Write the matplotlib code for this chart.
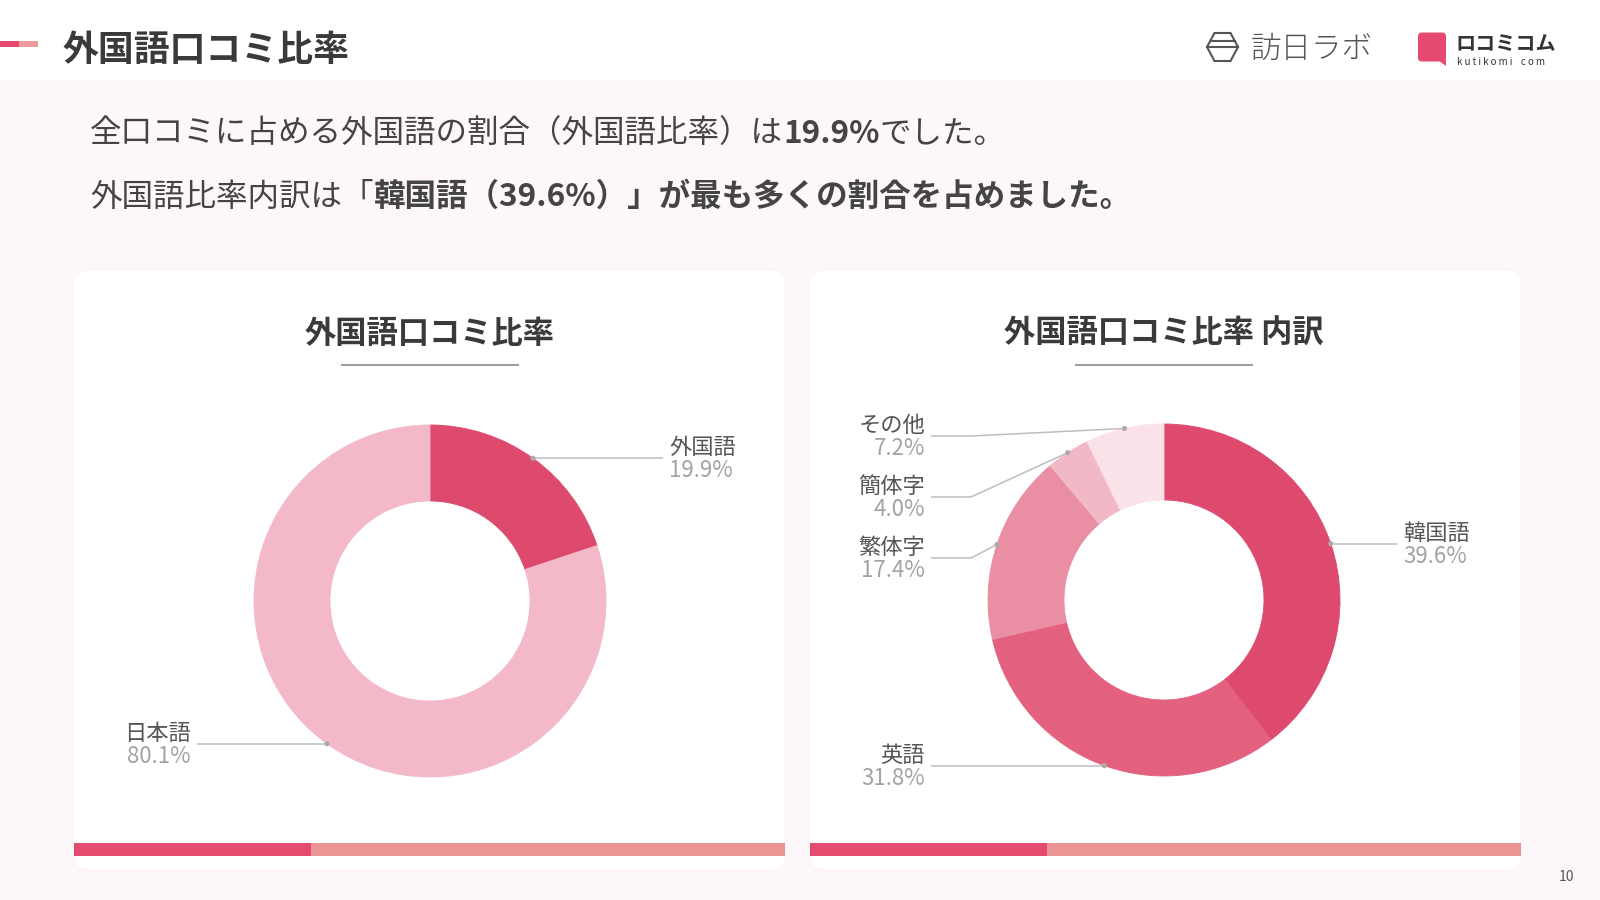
import matplotlib
matplotlib.use('Agg')
import matplotlib.pyplot as plt
import numpy as np
from matplotlib.patches import FancyBboxPatch, Rectangle, Polygon, Circle

plt.rcParams['font.family'] = ['Noto Sans CJK JP', 'DejaVu Sans']

# ---------------- data ----------------
page_title = '外国語口コミ比率'
chart1_title = '外国語口コミ比率'
chart2_title = '外国語口コミ比率 内訳'

overall_labels = ['外国語', '日本語']
overall_values = [19.9, 80.1]
overall_colors = ['#DE4A6E', '#F3B9C8']

breakdown_labels = ['韓国語', '英語', '繁体字', '簡体字', 'その他']
breakdown_values = [39.6, 31.8, 17.4, 4.0, 7.2]
breakdown_colors = ['#DD4A6E', '#E3617F', '#EA8EA3', '#F2B8C6', '#FAE2E8']

line1_parts = [('全口コミに占める外国語の割合（外国語比率）は', False), ('19.9%', True), ('でした。', False)]
line2_parts = [('外国語比率内訳は「', False), ('韓国語（39.6%）」が最も多くの割合を占めました。', True)]

page_number = '10'

# ---------------- figure ----------------
W, H = 1600, 900
fig = plt.figure(figsize=(16, 9), dpi=100)
fig.patch.set_facecolor('#FEF7F9')
bg = fig.add_axes([0, 0, 1, 1])
bg.set_xlim(0, W)
bg.set_ylim(H, 0)
bg.axis('off')
bg.set_zorder(0)

# header band
bg.add_patch(Rectangle((0, 0), W, 80, facecolor='white', edgecolor='none'))
bg.add_patch(Rectangle((0, 40.5), 19, 6, facecolor='#E5496F', edgecolor='none'))
bg.add_patch(Rectangle((19, 40.5), 19, 6, facecolor='#EC9A9C', edgecolor='none'))
bg.text(62, 51, page_title, fontsize=25.8, fontweight='bold', color='#3A3A3A', va='center', ha='left')

# logo 1: hexagon icon + 訪日ラボ
hx, hy = 1222.5, 47
hexpts = [(hx - 8, hy - 14), (hx + 8, hy - 14), (hx + 15.5, hy), (hx + 8, hy + 14), (hx - 8, hy + 14), (hx - 15.5, hy)]
bg.add_patch(Polygon(hexpts, closed=True, fill=False, edgecolor='#555555', linewidth=1.5))
bg.plot([hx - 12, hx + 12], [hy - 6, hy - 6], color='#555555', lw=1.5)
bg.plot([hx - 15.5, hx + 15.5], [hy, hy], color='#555555', lw=1.5)
bg.text(1251, 49, '訪日ラボ', fontsize=22, color='#555555', va='center', ha='left', fontweight='light')

# logo 2: kutikomi
bg.add_patch(FancyBboxPatch((1418, 32.5), 28, 29, boxstyle='round,pad=0,rounding_size=4',
                            facecolor='#E5496F', edgecolor='none'))
bg.add_patch(Polygon([(1438, 60), (1446, 60), (1446, 66)], closed=True, facecolor='#E5496F', edgecolor='none'))
bg.text(1455, 44, 'ロコミコム', fontsize=14.5, fontweight='bold', color='#333333', va='center', ha='left')
bg.text(1457, 62, 'k u t i k o m i    c o m', fontsize=7, color='#333333', va='center', ha='left')

# subtitle lines with mixed weight
fig.canvas.draw()
renderer = fig.canvas.get_renderer()


def rich(x, y, parts, size, color):
    for s, bold in parts:
        t = bg.text(x, y, s, fontsize=size, fontweight='bold' if bold else 'normal',
                    color=color, va='center', ha='left')
        bb = t.get_window_extent(renderer)
        x += bb.width


rich(90, 134, line1_parts, 22.7, '#444444')
rich(90, 197, line2_parts, 22.7, '#444444')

# cards
card_x = [74, 810]
card_w = 711
for cx in card_x:
    bg.add_patch(FancyBboxPatch((cx, 270), card_w, 600, boxstyle='round,pad=0,rounding_size=14',
                                facecolor='white', edgecolor='#FBF1F3', linewidth=0.6))
    bg.add_patch(Rectangle((cx, 843), card_w / 3 + 0.5, 13, facecolor='#E34C6F', edgecolor='none'))
    bg.add_patch(Rectangle((cx + card_w / 3, 843), card_w * 2 / 3, 13, facecolor='#EA9494', edgecolor='none'))

centers = [(430, 601), (1164, 600)]
titles = [chart1_title, chart2_title]
for (ccx, ccy), ttl in zip(centers, titles):
    bg.text(ccx, 334, ttl, fontsize=22.5, fontweight='bold', color='#3A3A3A', va='center', ha='center')
    bg.plot([ccx - 89, ccx + 89], [365, 365], color='#8A8A8A', lw=1.2, solid_capstyle='butt')

bg.text(1567, 877, page_number, fontsize=10, color='#555555', va='center', ha='center')

# ---------------- donuts ----------------
R_OUT = 176
RING = 76
HALF = 300


def donut(center, labels, values, colors, label_y=None):
    cx, cy = center
    ax = fig.add_axes([(cx - HALF) / W, (H - cy - HALF) / H, 2 * HALF / W, 2 * HALF / H])
    ax.set_zorder(1)
    ax.patch.set_alpha(0)
    wedges, _ = ax.pie(values, colors=colors, startangle=90, counterclock=False, radius=R_OUT,
                       wedgeprops=dict(width=RING, linewidth=0.6))
    for w_, c in zip(wedges, colors):
        w_.set_edgecolor(c)
    ax.set_xlim(-HALF, HALF)
    ax.set_ylim(-HALF, HALF)
    ax.set_aspect('equal')
    ax.axis('off')
    total = float(sum(values))
    cum = 0.0
    for i, (lab, v) in enumerate(zip(labels, values)):
        mid = 90 - 360 * (cum + v / 2) / total
        cum += v
        px = R_OUT * np.cos(np.radians(mid))
        py = R_OUT * np.sin(np.radians(mid))
        side = 1 if px >= 0 else -1
        ly = py if (label_y is None or label_y[i] is None) else label_y[i]
        xe = side * 233
        if label_y is not None and label_y[i] is not None:
            xs = [px, side * 193, xe]
            ys = [py, ly, ly]
        else:
            xs = [px, xe]
            ys = [py, ly]
        ax.plot(xs, ys, color='#BDBDBD', lw=1.1, clip_on=False, solid_capstyle='butt')
        ax.add_patch(Circle((px, py), 2.6, facecolor='#ABABAB', edgecolor='none', clip_on=False, zorder=5))
        tx = side * 239
        ha = 'left' if side > 0 else 'right'
        ax.text(tx, ly + 10.5, lab, fontsize=16, color='#555555', ha=ha, va='center', clip_on=False)
        ax.text(tx, ly - 12.5, f'{v:.1f}%', fontsize=16, color='#A3A3A3', ha=ha, va='center', clip_on=False)
    return ax


donut(centers[0], overall_labels, overall_values, overall_colors)
breakdown_label_y = [None, None, 42, 103, 164]
donut(centers[1], breakdown_labels, breakdown_values, breakdown_colors, breakdown_label_y)

fig.savefig('out.png', dpi=100, facecolor=fig.get_facecolor())
